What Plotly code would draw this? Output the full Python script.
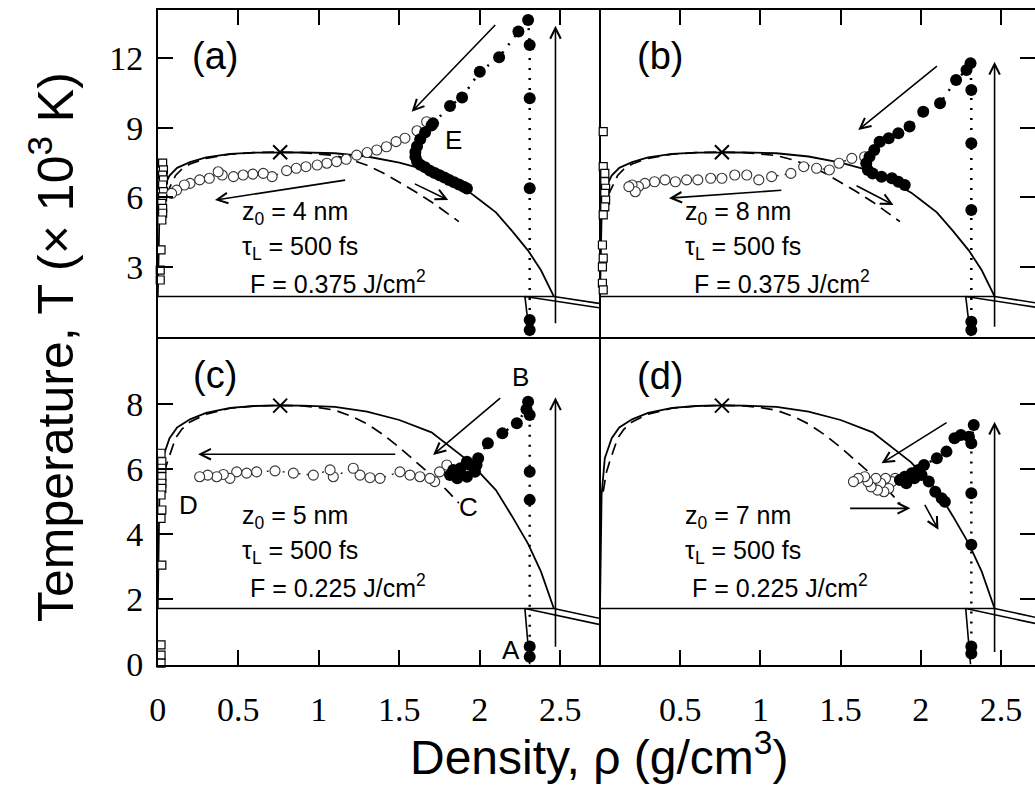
import plotly.graph_objects as go

W, H = 1035, 792

# ---------------- shared phase-diagram curves (rho in g/cm^3, T in 10^3 K) -------------
BINODAL_RHO = [0.0, 0.003, 0.01, 0.03, 0.073, 0.12, 0.2, 0.3, 0.45, 0.6, 0.76, 0.9, 1.1,
               1.3, 1.5, 1.7, 1.85, 1.94, 2.0, 2.1, 2.2, 2.3, 2.38, 2.46]
BINODAL_T = [1.72, 3.36, 5.2, 6.33, 6.94, 7.27, 7.52, 7.72, 7.87, 7.93, 7.95, 7.94, 7.9,
             7.76, 7.5, 7.12, 6.55, 6.2, 5.88, 5.35, 4.55, 3.7, 2.85, 1.72]
SPINODAL_RHO = [0.02, 0.04, 0.062, 0.11, 0.15, 0.2, 0.3, 0.45, 0.6, 0.76, 0.9, 1.0, 1.1,
                1.2, 1.3, 1.4, 1.5, 1.6, 1.7, 1.8, 1.87]
SPINODAL_T = [5.3, 5.9, 6.25, 6.94, 7.22, 7.44, 7.68, 7.86, 7.93, 7.95, 7.93, 7.88, 7.8,
              7.62, 7.38, 7.05, 6.66, 6.24, 5.8, 5.32, 4.95]
CRIT_RHO = [0.76]
CRIT_T = [7.94]
TRIPLE_RHO = [0.0, 2.46]
TRIPLE_T = [1.72, 1.72]
MELT_LO_RHO = [2.28, 2.74]
MELT_LO_T = [1.72, 1.23]
MELT_HI_RHO = [2.46, 2.74]
MELT_HI_T = [1.72, 1.42]
SOLIDUS_RHO = [2.28, 2.31]
SOLIDUS_T = [1.72, 0.0]

# ---------------- panel (a) ----------------
A_FILLED_RHO = [2.31, 2.31, 2.31, 2.31, 2.31, 2.30, 2.24, 2.12, 2.0, 1.89, 1.815, 1.71,
                1.70, 1.66, 1.63, 1.61, 1.60, 1.60, 1.61, 1.63, 1.66, 1.69, 1.72, 1.75,
                1.78, 1.81, 1.84, 1.87, 1.90, 1.92]
A_FILLED_T = [0.27, 0.7, 6.39, 10.27, 12.57, 13.65, 13.15, 12.04, 11.42, 10.31, 9.94, 9.19,
              9.1, 8.8, 8.5, 8.2, 7.95, 7.75, 7.55, 7.4, 7.3, 7.15, 7.05, 6.95,
              6.85, 6.75, 6.65, 6.55, 6.45, 6.38]
A_OPEN_RHO = [1.67, 1.61, 1.535, 1.48, 1.42, 1.36, 1.30, 1.235, 1.17, 1.11, 1.05, 0.99,
              0.92, 0.86, 0.80, 0.71, 0.655, 0.59, 0.53, 0.47, 0.40, 0.375, 0.32, 0.26,
              0.2, 0.165, 0.117, 0.086]
A_OPEN_T = [9.26, 8.87, 8.55, 8.4, 8.18, 8.04, 7.93, 7.82, 7.64, 7.54, 7.47, 7.39,
            7.32, 7.25, 7.15, 6.89, 7.03, 7.0, 6.96, 6.89, 6.96, 7.1, 6.82, 6.75,
            6.6, 6.53, 6.31, 6.17]
A_SQ_RHO = [0.03, 0.035, 0.03, 0.035, 0.03, 0.035, 0.03, 0.025, 0.03, 0.03, 0.025, 0.02, 0.015, 0.015]
A_SQ_T = [7.47, 7.18, 6.96, 6.75, 6.53, 6.24, 6.02, 5.74, 5.52, 5.31, 5.02, 3.73, 2.86, 2.43]
A_ARROWS = [(2.105, 13.5, 1.577, 9.69), (1.173, 6.75, 0.355, 5.88),
            (1.587, 6.61, 1.804, 5.88), (2.47, 0.5, 2.47, 13.4)]

# ---------------- panel (b) ----------------
B_FILLED_RHO = [2.315, 2.315, 2.315, 2.315, 2.315, 2.31, 2.285, 2.22, 2.12, 2.015, 1.93,
                1.86, 1.80, 1.745, 1.71, 1.68, 1.66, 1.67, 1.70, 1.755, 1.82, 1.86, 1.90]
B_FILLED_T = [0.27, 0.63, 5.45, 8.33, 10.63, 11.78, 11.49, 11.06, 10.06, 9.69, 9.05,
              8.76, 8.55, 8.4, 8.04, 7.75, 7.47, 7.18, 7.03, 6.89, 6.82, 6.67, 6.53]
B_OPEN_RHO = [1.74, 1.65, 1.57, 1.49, 1.43, 1.35, 1.27, 1.19, 1.07, 0.99, 0.915, 0.84,
              0.76, 0.69, 0.61, 0.54, 0.47, 0.405, 0.34, 0.28, 0.24, 0.2, 0.22, 0.18]
B_OPEN_T = [8.4, 7.75, 7.68, 7.47, 7.18, 7.25, 7.32, 7.03, 6.89, 6.75, 6.96, 6.96,
            6.82, 6.82, 6.75, 6.75, 6.67, 6.75, 6.67, 6.6, 6.46, 6.53, 6.24, 6.46]
B_SQ_RHO = [0.02, 0.02, 0.03, 0.03, 0.035, 0.03, 0.035, 0.03, 0.02, 0.015, 0.02, 0.015, 0.015, 0.02]
B_SQ_T = [8.83, 7.32, 7.03, 6.67, 6.39, 6.17, 5.88, 5.59, 5.24, 3.94, 3.37, 3.0, 2.29, 2.0]
B_ARROWS = [(2.11, 11.71, 1.61, 8.9), (1.14, 6.31, 0.43, 5.96),
            (1.59, 6.53, 1.83, 5.67), (2.46, 0.35, 2.46, 11.85)]

# ---------------- panel (c) ----------------
C_FILLED_RHO = [2.31, 2.31, 2.31, 2.31, 2.31, 2.30, 2.29, 2.23, 2.14, 2.05, 1.99, 1.94,
                1.88, 1.835, 1.815, 1.86, 1.92, 1.97, 1.98, 1.92]
C_FILLED_T = [0.24, 0.55, 5.05, 5.91, 7.65, 8.06, 7.83, 7.4, 7.09, 6.79, 6.33, 6.12,
              6.02, 5.97, 5.81, 5.71, 5.76, 5.91, 6.12, 6.22]
C_OPEN_RHO = [1.795, 1.75, 1.72, 1.69, 1.628, 1.566, 1.504, 1.38, 1.318, 1.256, 1.214,
              1.09, 1.07, 0.966, 0.842, 0.728, 0.614, 0.552, 0.49, 0.448, 0.407, 0.366,
              0.31, 0.26]
C_OPEN_T = [6.12, 5.91, 5.61, 5.71, 5.76, 5.81, 5.91, 5.71, 5.73, 5.81, 6.02,
            5.76, 5.97, 5.81, 5.87, 5.94, 5.91, 5.87, 5.91, 5.71, 5.83, 5.76,
            5.81, 5.76]
C_SQ_RHO = [0.02, 0.025, 0.025, 0.025, 0.025, 0.025, 0.02, 0.025, 0.02, 0.025, 0.02, 0.02, 0.02]
C_SQ_T = [6.48, 6.22, 6.02, 5.76, 5.56, 5.4, 5.2, 4.74, 4.48, 3.05, 0.6, 0.29, 0.04]
C_ARROWS = [(2.136, 8.21, 1.71, 6.43), (1.484, 6.45, 0.25, 6.45),
            (2.47, 0.5, 2.47, 8.2)]

# ---------------- panel (d) ----------------
D_FILLED_RHO = [2.315, 2.315, 2.315, 2.315, 2.315, 2.33, 2.30, 2.25, 2.21, 2.16, 2.10,
                2.02, 1.985, 1.944, 1.90, 1.87, 1.91, 1.96, 2.005, 2.05, 2.09, 2.13, 2.15]
D_FILLED_T = [0.34, 0.55, 3.67, 5.25, 6.79, 7.35, 6.99, 7.04, 6.94, 6.53, 6.33,
              6.12, 5.97, 5.87, 5.76, 5.66, 5.56, 5.71, 5.81, 5.61, 5.3, 5.1, 4.99]
D_OPEN_RHO = [1.84, 1.82, 1.80, 1.78, 1.77, 1.75, 1.73, 1.72, 1.69, 1.67, 1.65, 1.61, 1.58]
D_OPEN_T = [5.71, 5.61, 5.4, 5.71, 5.3, 5.56, 5.35, 5.71, 5.45, 5.61, 5.76, 5.71, 5.61]
D_ARROWS = [(2.17, 7.45, 1.755, 6.17), (1.55, 4.79, 1.935, 4.79),
            (2.02, 4.94, 2.11, 4.13), (2.46, 0.34, 2.46, 7.45)]

PANEL_LABELS = ["(a)", "(b)", "(c)", "(d)"]
Z0 = ["4", "8", "5", "7"]
TAU = ["500", "500", "500", "500"]
FLUENCE = ["0.375", "0.375", "0.225", "0.225"]

# ---------------- figure ----------------
fig = go.Figure()
SANS = "Liberation Sans, Arial, sans-serif"
SERIF = "Liberation Serif, Times New Roman, serif"

panels = [
    ("x", "y", A_FILLED_RHO, A_FILLED_T, A_OPEN_RHO, A_OPEN_T, A_SQ_RHO, A_SQ_T, A_ARROWS),
    ("x2", "y2", B_FILLED_RHO, B_FILLED_T, B_OPEN_RHO, B_OPEN_T, B_SQ_RHO, B_SQ_T, B_ARROWS),
    ("x3", "y3", C_FILLED_RHO, C_FILLED_T, C_OPEN_RHO, C_OPEN_T, C_SQ_RHO, C_SQ_T, C_ARROWS),
    ("x4", "y4", D_FILLED_RHO, D_FILLED_T, D_OPEN_RHO, D_OPEN_T, [], [], D_ARROWS),
]

annotations = []
for (xa, ya, fr, ft, orr, ot, sr, st, arrows) in panels:
    line_kw = dict(xaxis=xa, yaxis=ya, showlegend=False, hoverinfo="skip")
    fig.add_trace(go.Scatter(x=BINODAL_RHO, y=BINODAL_T, mode="lines",
                             line=dict(color="black", width=1.8), **line_kw))
    fig.add_trace(go.Scatter(x=SPINODAL_RHO, y=SPINODAL_T, mode="lines",
                             line=dict(color="black", width=1.7, dash="12px,7px"), **line_kw))
    for rx, ty in [(TRIPLE_RHO, TRIPLE_T), (MELT_LO_RHO, MELT_LO_T),
                   (MELT_HI_RHO, MELT_HI_T), (SOLIDUS_RHO, SOLIDUS_T)]:
        fig.add_trace(go.Scatter(x=rx, y=ty, mode="lines",
                                 line=dict(color="black", width=1.6), **line_kw))
    if sr:
        fig.add_trace(go.Scatter(x=sr, y=st, mode="markers", cliponaxis=False,
                                 marker=dict(symbol="square", size=8, color="white",
                                             line=dict(width=1.2, color="black")), **line_kw))
    fig.add_trace(go.Scatter(x=orr, y=ot, mode="lines+markers", cliponaxis=False,
                             line=dict(color="#333", width=1.5, dash="2px,6px"),
                             marker=dict(symbol="circle", size=10, color="white",
                                         line=dict(width=1.1, color="#333")), **line_kw))
    fig.add_trace(go.Scatter(x=fr, y=ft, mode="lines+markers", cliponaxis=False,
                             line=dict(color="black", width=2.5, dash="2px,8px"),
                             marker=dict(symbol="circle", size=12, color="black"), **line_kw))
    fig.add_trace(go.Scatter(x=CRIT_RHO, y=CRIT_T, mode="markers",
                             marker=dict(symbol="x-thin-open", size=14, color="black",
                                         line=dict(width=2, color="black")), **line_kw))
    for (x0, y0, x1, y1) in arrows:
        annotations.append(dict(x=x1, y=y1, ax=x0, ay=y0, xref=xa, yref=ya,
                                axref=xa, ayref=ya, text="", showarrow=True,
                                arrowhead=5, arrowsize=1.3, arrowwidth=1.6,
                                arrowcolor="black", standoff=0))


def px(x):
    return x / W


def py(y):
    return 1 - y / H


# panel labels
for lbl, (cx, cy) in zip(PANEL_LABELS, [(215, 56), (660, 56), (215, 375), (660, 376)]):
    annotations.append(dict(x=px(cx), y=py(cy), xref="paper", yref="paper", text=lbl,
                            showarrow=False, xanchor="center", yanchor="middle",
                            font=dict(family=SANS, size=38, color="black")))

# parameter text blocks
text_pos = [(240, 248, 213), (683, 692, 213), (240, 248, 517), (683, 690, 517)]
for i, (lx, fx, ty) in enumerate(text_pos):
    lines = [(lx, ty, f"z<sub>0</sub> = {Z0[i]} nm"),
             (lx, ty + 35, f"τ<sub>L</sub> = {TAU[i]} fs"),
             (fx, ty + 69, f"F = {FLUENCE[i]} J/cm<sup>2</sup>")]
    for (x, y, t) in lines:
        annotations.append(dict(x=px(x), y=py(y), xref="paper", yref="paper", text=t,
                                showarrow=False, xanchor="left", yanchor="middle",
                                font=dict(family=SANS, size=25, color="black")))

# point labels
for t, (cx, cy) in [("E", (453, 140)), ("B", (520, 377)), ("C", (468, 507)),
                    ("D", (188, 505)), ("A", (511, 650))]:
    annotations.append(dict(x=px(cx), y=py(cy), xref="paper", yref="paper", text=t,
                            showarrow=False, xanchor="center", yanchor="middle",
                            font=dict(family=SANS, size=26, color="black")))

# axis titles
annotations.append(dict(x=px(52), y=py(347), xref="paper", yref="paper",
                        text="Temperature, T (× 10<sup>3</sup> K)", textangle=-90,
                        showarrow=False, xanchor="center", yanchor="middle",
                        font=dict(family=SANS, size=50, color="black")))
annotations.append(dict(x=px(599), y=py(754), xref="paper", yref="paper",
                        text="Density, ρ (g/cm<sup>3</sup>)",
                        showarrow=False, xanchor="center", yanchor="middle",
                        font=dict(family=SANS, size=48, color="black")))

XL = [157.8 / W, 599 / W]
XR = [599 / W, 1.0]
YT = [1 - 336.5 / H, 1 - 10 / H]
YB = [1 - 664.5 / H, 1 - 336.5 / H]
RX_L = [0, (599 - 157.8) / 161]
RX_R = [(599 - 600) / 160.4, (1035 - 600) / 160.4]
RY_T = [(336.3 - 336.5) / 23.17, (336.3 - 10) / 23.17]
RY_B = [0, (664.5 - 336.5) / 32.6]

X_TICKS = [0, 0.5, 1, 1.5, 2, 2.5]
X_TEXT = ["0", "0.5", "1", "1.5", "2", "2.5"]
YT_TICKS = [3, 6, 9, 12]
YB_TICKS = [0, 2, 4, 6, 8]

base = dict(showgrid=False, zeroline=False, showline=True, linecolor="black",
            linewidth=1.6, ticks="inside", ticklen=15, tickwidth=2, automargin=False,
            tickcolor="black", tickfont=dict(family=SERIF, size=34, color="black"),
            ticklabelstandoff=6)
xbase = dict(base, ticklabelstandoff=14)

fig.update_layout(
    width=W, height=792, margin=dict(l=0, r=0, t=0, b=0, autoexpand=False),
    paper_bgcolor="white", plot_bgcolor="white", showlegend=False,
    annotations=annotations,
    xaxis=dict(xbase, domain=XL, range=RX_L, side="top", anchor="y", mirror=True,
               tickvals=X_TICKS[1:], showticklabels=False),
    yaxis=dict(base, domain=YT, range=RY_T, side="left", anchor="x", mirror=True,
               tickvals=YT_TICKS, ticktext=[str(v) for v in YT_TICKS]),
    xaxis2=dict(xbase, domain=XR, range=RX_R, side="top", anchor="y2", mirror=True,
                tickvals=X_TICKS[1:], showticklabels=False),
    yaxis2=dict(base, domain=YT, range=RY_T, side="right", anchor="x2", mirror=False,
                tickvals=YT_TICKS, showticklabels=False),
    xaxis3=dict(xbase, domain=XL, range=RX_L, side="bottom", anchor="y3", mirror=False,
                tickvals=X_TICKS, ticktext=X_TEXT),
    yaxis3=dict(base, domain=YB, range=RY_B, side="left", anchor="x3", mirror=True,
                tickvals=YB_TICKS, ticktext=[str(v) for v in YB_TICKS]),
    xaxis4=dict(xbase, domain=XR, range=RX_R, side="bottom", anchor="y4", mirror=False,
                tickvals=X_TICKS[1:], ticktext=X_TEXT[1:]),
    yaxis4=dict(base, domain=YB, range=RY_B, side="right", anchor="x4", mirror=False,
                tickvals=YB_TICKS, showticklabels=False),
)

fig.write_html("out.html")
